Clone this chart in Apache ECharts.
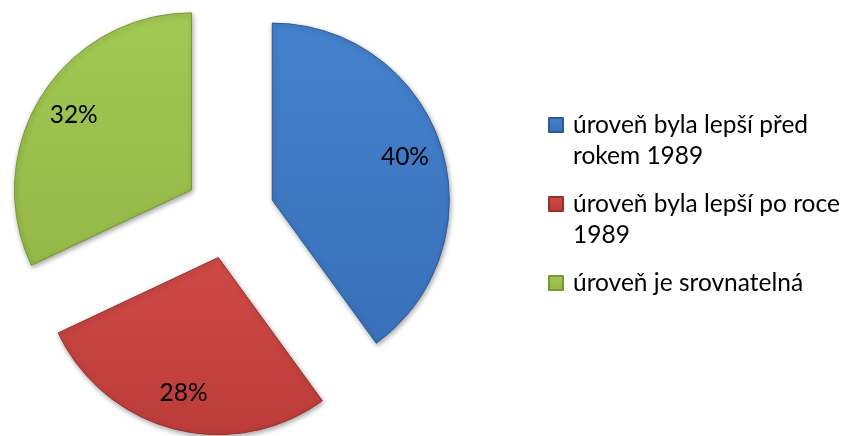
<!DOCTYPE html>
<html>
<head>
<meta charset="utf-8">
<script src="https://cdn.jsdelivr.net/npm/echarts@6/dist/echarts.min.js"></script>
<style>
html,body{margin:0;padding:0;background:#fff;}
#chart{width:846px;height:436px;}
</style>
</head>
<body>
<div id="chart"></div>
<script>
const categories = ['úroveň byla lepší před rokem 1989', 'úroveň byla lepší po roce 1989', 'úroveň je srovnatelná'];
const values = [40, 28, 32];

const palette = [
  {top: '#4581cc', bottom: '#3871b9', border: '#2c5b98'},
  {top: '#cf4a46', bottom: '#bb3c39', border: '#9a2f2c'},
  {top: '#a3c955', bottom: '#93b845', border: '#779833'}
];
const FONT = 'Lato';
const FS = 24.5;
const LINE_H = 31;
const WRAP_W = 280;
const ITEM_GAP = 17;
const FIRST_ICON_Y = 125;

function grad(p) {
  return new echarts.graphic.LinearGradient(0, 0, 0, 1, [
    {offset: 0, color: p.top}, {offset: 1, color: p.bottom}
  ]);
}

const center = [229.5, 214];
const R = 177;

// greedy word wrap measured with the real font
function wrapLines(text) {
  const ctx = document.createElement('canvas').getContext('2d');
  ctx.font = FS + 'px ' + FONT;
  const words = text.split(' ');
  const lines = [];
  let cur = '';
  words.forEach(w => {
    const t = cur ? cur + ' ' + w : w;
    if (cur && ctx.measureText(t).width > WRAP_W) {
      lines.push(cur);
      cur = w;
    } else {
      cur = t;
    }
  });
  if (cur) lines.push(cur);
  return lines;
}

function draw() {
  const pieData = categories.map((name, i) => ({
    name: name, value: values[i], selected: true,
    itemStyle: {color: grad(palette[i]), borderColor: palette[i].border}
  }));
  const labelData = categories.map((name, i) => ({
    name: name, value: values[i], selected: true
  }));

  const wrapped = categories.map(wrapLines);
  let iconY = FIRST_ICON_Y;
  const legends = categories.map((name, i) => {
    const n = wrapped[i].length;
    // blank lines above keep the icon level with the first text line
    const txt = new Array(n).join('\n') + wrapped[i].join('\n');
    const blockH = (2 * n - 1) * LINE_H;
    const top = iconY - blockH / 2;
    iconY += n * LINE_H + ITEM_GAP;
    return {
      show: true,
      orient: 'vertical',
      left: 548,
      top: top,
      padding: 0,
      itemWidth: 14,
      itemHeight: 14,
      selectedMode: false,
      data: [{name: name, icon: 'rect'}],
      formatter: () => txt,
      textStyle: {
        fontFamily: FONT, fontSize: FS, color: '#000',
        lineHeight: LINE_H,
        padding: [0, 0, 0, 5]
      }
    };
  });

  const chart = echarts.init(document.getElementById('chart'), null, {renderer: 'canvas'});
  chart.setOption({
    animation: false,
    backgroundColor: '#fff',
    textStyle: {fontFamily: FONT},
    legend: legends,
    series: [
      {
        type: 'pie',
        center: center,
        radius: [0, R],
        startAngle: 90,
        clockwise: true,
        selectedMode: 'multiple',
        selectedOffset: 45,
        avoidLabelOverlap: false,
        label: {show: false},
        labelLine: {show: false},
        emphasis: {disabled: true},
        itemStyle: {
          borderWidth: 1,
          shadowBlur: 5,
          shadowColor: 'rgba(0,0,0,0.35)',
          shadowOffsetX: 1,
          shadowOffsetY: 2
        },
        data: pieData
      },
      {
        type: 'pie',
        center: center,
        radius: [96, R],
        startAngle: 90,
        clockwise: true,
        selectedMode: 'multiple',
        selectedOffset: 45,
        avoidLabelOverlap: false,
        silent: true,
        emphasis: {disabled: true},
        itemStyle: {color: 'rgba(0,0,0,0)', borderWidth: 0},
        label: {
          show: true, position: 'inside',
          formatter: p => p.value + '%',
          fontFamily: FONT, fontSize: FS, color: '#000'
        },
        labelLine: {show: false},
        data: labelData
      }
    ]
  });
}

if (document.fonts && document.fonts.load) {
  document.fonts.load(FS + 'px ' + FONT).then(draw, draw);
} else {
  draw();
}
</script>
</body>
</html>
